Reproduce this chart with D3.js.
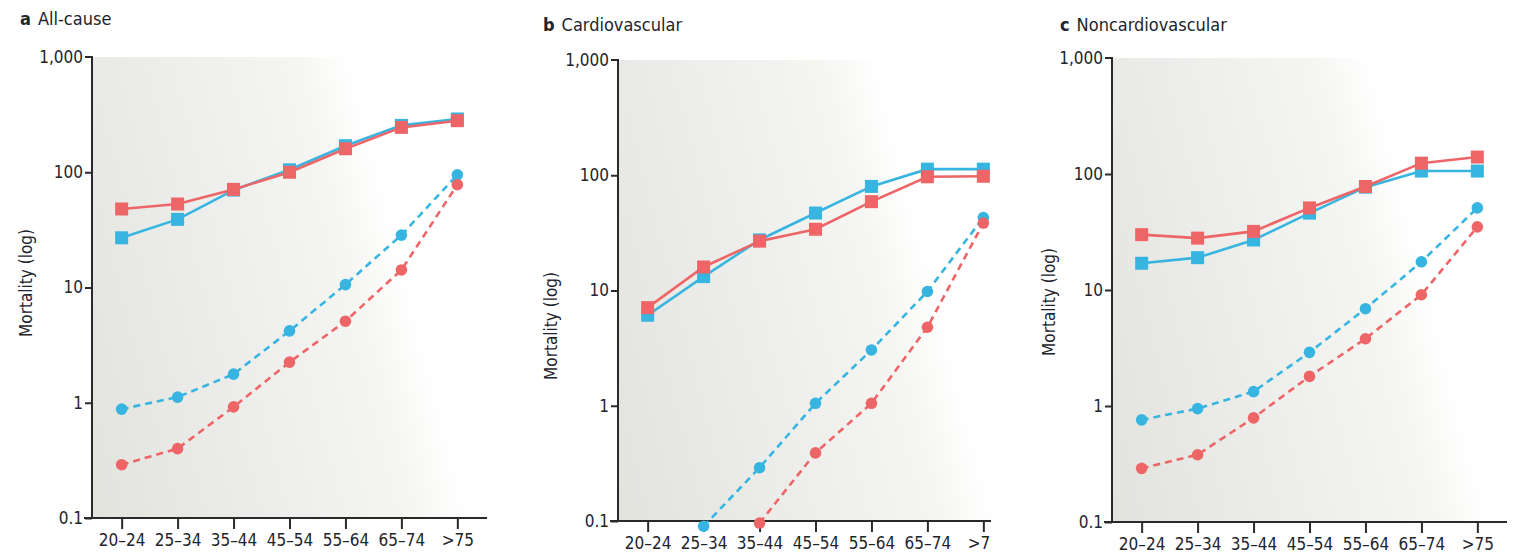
<!DOCTYPE html>
<html>
<head>
<meta charset="utf-8">
<script src="https://cdn.jsdelivr.net/npm/d3@7"></script>
<style>
  html, body { margin: 0; padding: 0; background: #fff; }
  svg { display: block; }
  text { font-family: "Liberation Sans Narrow", "DejaVu Sans Condensed", "Roboto Condensed", sans-serif; fill: #22242c; }
</style>
</head>
<body>
<svg id="chart" width="1514" height="559"></svg>
<script>
// ---------- data ----------
const ageGroups = ["20–24", "25–34", "35–44", "45–54", "55–64", "65–74", ">75"];
const yTickValues = [0.1, 1, 10, 100, 1000];
const panelLetters = ["a", "b", "c"];
const panelTitles = ["All-cause", "Cardiovascular", "Noncardiovascular"];
const yAxisTitle = "Mortality (log)";

// a: All-cause
const allCauseBlueSolid  = [27, 39, 70, 105, 170, 255, 290];
const allCauseRedSolid   = [48, 53, 71, 100, 160, 245, 280];
const allCauseBlueDashed = [0.88, 1.12, 1.77, 4.2, 10.6, 28.5, 95];
const allCauseRedDashed  = [0.29, 0.40, 0.92, 2.25, 5.1, 14.2, 78];
// b: Cardiovascular
const cardioBlueSolid  = [6.1, 13.2, 27.5, 47, 80, 113, 113];
const cardioRedSolid   = [7.1, 16, 26.8, 34, 59, 97, 98];
const cardioBlueDashed = [null, 0.09, 0.29, 1.05, 3.05, 9.8, 43];
const cardioRedDashed  = [null, null, 0.096, 0.39, 1.05, 4.8, 38.5];
// c: Noncardiovascular
const nonCardioBlueSolid  = [17, 19, 27, 46, 77, 106, 106];
const nonCardioRedSolid   = [30, 28, 32, 51, 78, 124, 140];
const nonCardioBlueDashed = [0.76, 0.95, 1.33, 2.9, 6.9, 17.5, 51];
const nonCardioRedDashed  = [0.29, 0.38, 0.79, 1.8, 3.8, 9.1, 35];

const panelSeries = [
  [allCauseBlueSolid, allCauseRedSolid, allCauseBlueDashed, allCauseRedDashed],
  [cardioBlueSolid, cardioRedSolid, cardioBlueDashed, cardioRedDashed],
  [nonCardioBlueSolid, nonCardioRedSolid, nonCardioBlueDashed, nonCardioRedDashed]
];

// ---------- layout ----------
const BLUE = "#37b5e0", RED = "#ee6568";
const layout = [
  { x0: 92,   yTop: 57, yBot: 518, clipRight: null, titleX: 20,   titleY: 25, labX: 32,   labY: 283 },
  { x0: 618,  yTop: 60, yBot: 521, clipRight: 991,  titleX: 543,  titleY: 31, labX: 557,  labY: 326 },
  { x0: 1112, yTop: 58, yBot: 522, clipRight: null, titleX: 1060, titleY: 31, labX: 1055, labY: 302 }
];
const plotW = 395;

const svg = d3.select("#chart");
const defs = svg.append("defs");

layout.forEach((L, i) => {
  const g = svg.append("g");
  const x = d3.scalePoint().domain(ageGroups).range([L.x0, L.x0 + plotW]).padding(0.53);
  const y = d3.scaleLog().domain([0.1, 1000]).range([L.yBot, L.yTop]);

  // gradient background (angled: gray at left fading to white at right)
  const gid = "bg" + i;
  const grad = defs.append("linearGradient").attr("id", gid)
    .attr("gradientUnits", "userSpaceOnUse")
    .attr("x1", L.x0).attr("y1", L.yBot)
    .attr("x2", L.x0 + 354).attr("y2", L.yBot - 92);
  grad.append("stop").attr("offset", 0).attr("stop-color", "#e2e3dd");
  grad.append("stop").attr("offset", 0.45).attr("stop-color", "#ecedea");
  grad.append("stop").attr("offset", 0.85).attr("stop-color", "#f5f5f2");
  grad.append("stop").attr("offset", 1).attr("stop-color", "#ffffff");

  let content = g;
  if (L.clipRight) {
    const cid = "clip" + i;
    defs.append("clipPath").attr("id", cid).append("rect")
      .attr("x", L.x0 - 100).attr("y", 0).attr("width", L.clipRight - (L.x0 - 100)).attr("height", 559);
    content = g.append("g").attr("clip-path", `url(#${cid})`);
  }

  content.append("rect")
    .attr("x", L.x0).attr("y", L.yTop)
    .attr("width", plotW).attr("height", L.yBot - L.yTop)
    .attr("fill", `url(#${gid})`);

  // axes
  const yAxis = d3.axisLeft(y).tickValues(yTickValues)
    .tickFormat(d => d >= 1000 ? d3.format(",")(d) : String(d))
    .tickSize(7).tickPadding(2);
  const yg = content.append("g").attr("transform", `translate(${L.x0},0)`).call(yAxis);
  yg.select(".domain").attr("stroke", "#2a2a2a").attr("stroke-width", 2)
    .attr("d", `M${-7},${L.yTop}H0V${L.yBot}`);
  yg.selectAll(".tick line").attr("stroke", "#2a2a2a").attr("stroke-width", 2);
  yg.selectAll(".tick text").style("font-size", "17px").attr("fill", "#22242c");
  yg.selectAll(".tick").filter(d => d === 1000).select("line").remove();

  const xAxis = d3.axisBottom(x).tickSize(11).tickPadding(5);
  const xg = content.append("g").attr("transform", `translate(0,${L.yBot})`).call(xAxis);
  xg.select(".domain").attr("stroke", "#2a2a2a").attr("stroke-width", 2)
    .attr("d", `M${L.x0 - 8},0H${L.x0 + plotW}`);
  xg.selectAll(".tick line").attr("stroke", "#2a2a2a").attr("stroke-width", 2);
  xg.selectAll(".tick text").style("font-size", "17px").attr("fill", "#22242c");

  // series
  const [bs, rs, bd, rd] = panelSeries[i];
  const line = d3.line()
    .defined(d => d.v != null)
    .x(d => x(d.a)).y(d => y(d.v));
  const toPts = arr => arr.map((v, k) => ({ a: ageGroups[k], v }));

  const drawDashed = (arr, color) => {
    const pts = toPts(arr);
    content.append("path").datum(pts).attr("d", line)
      .attr("fill", "none").attr("stroke", color).attr("stroke-width", 2.6)
      .attr("stroke-dasharray", "7,5");
    content.selectAll(null).data(pts.filter(d => d.v != null)).enter().append("circle")
      .attr("cx", d => x(d.a)).attr("cy", d => y(d.v)).attr("r", 5.8).attr("fill", color);
  };
  const drawSolid = (arr, color) => {
    const pts = toPts(arr);
    content.append("path").datum(pts).attr("d", line)
      .attr("fill", "none").attr("stroke", color).attr("stroke-width", 2.6);
    content.selectAll(null).data(pts).enter().append("rect")
      .attr("x", d => x(d.a) - 6.5).attr("y", d => y(d.v) - 6.5)
      .attr("width", 13).attr("height", 13).attr("fill", color);
  };
  drawDashed(bd, BLUE);
  drawDashed(rd, RED);
  drawSolid(bs, BLUE);
  drawSolid(rs, RED);

  // title
  const t = svg.append("text").attr("x", L.titleX).attr("y", L.titleY).style("font-size", "18px");
  t.append("tspan").text(panelLetters[i]).style("font-weight", "bold");
  t.append("tspan").attr("dx", 7).text(panelTitles[i]);

  // y label
  svg.append("text")
    .attr("transform", `translate(${L.labX},${L.labY}) rotate(-90)`)
    .attr("text-anchor", "middle")
    .style("font-size", "17px")
    .text(yAxisTitle);
});
</script>
</body>
</html>
